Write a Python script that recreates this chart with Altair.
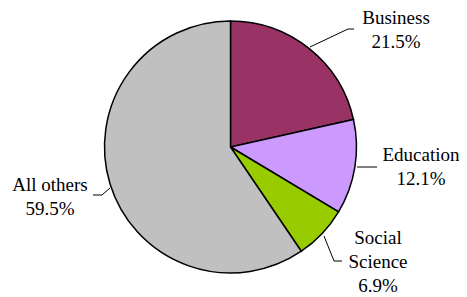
import altair as alt
import pandas as pd

categories = ["Business", "Education", "Social Science", "All others"]
shares = [21.5, 12.1, 6.9, 59.5]
colors = ["#993366", "#CC99FF", "#99CC00", "#C0C0C0"]

wrap = {"Social Science": "Social\nScience"}
df = pd.DataFrame({
    "category": categories,
    "share": shares,
    "order": list(range(len(categories))),
})
df["label"] = [wrap.get(c, c) + "\n" + f"{s:.1f}%" for c, s in zip(categories, shares)]

CX, CY, R = 222.5, 139, 126
FONT = "Liberation Serif"

pie = alt.Chart(df).mark_arc(outerRadius=R, stroke="black", strokeWidth=1.5).encode(
    theta=alt.Theta("share:Q", stack=True),
    color=alt.Color("category:N", scale=alt.Scale(domain=categories, range=colors), legend=None),
    order=alt.Order("order:Q"),
    x=alt.value(CX),
    y=alt.value(CY),
)

# label positions: centre of the first text line (layout, not data)
label_pos = {
    "Business": (388, 10),
    "Education": (413, 147),
    "Social Science": (370, 230),
    "All others": (42, 177),
}
# leader line segments
leaders = {
    "Business": [(302, 39, 340, 21), (340, 21, 346, 21)],
    "Education": [(349, 159, 369, 159)],
    "Social Science": [(316, 228, 326, 253), (326, 253, 334, 253)],
    "All others": [(102, 180, 94, 187), (94, 187, 85, 187)],
}

layers = [pie]
for c in categories:
    px, py = label_pos[c]
    layers.append(
        alt.Chart(df).transform_filter(alt.datum.category == c).mark_text(
            font=FONT, fontSize=19, lineHeight=24, lineBreak="\n",
            align="center", baseline="middle", color="black",
        ).encode(text="label:N", x=alt.value(px), y=alt.value(py))
    )
    for (x1, y1, x2, y2) in leaders[c]:
        layers.append(
            alt.Chart(df).transform_filter(alt.datum.category == c).mark_rule(
                color="black", strokeWidth=1
            ).encode(x=alt.value(x1), y=alt.value(y1), x2=alt.value(x2), y2=alt.value(y2))
        )

chart = alt.layer(*layers).properties(
    width=451, height=289, autosize=alt.AutoSizeParams(type="none"), padding=0,
).configure_view(stroke=None)

chart.save("out.html", embed_options={"renderer": "svg", "actions": False})
